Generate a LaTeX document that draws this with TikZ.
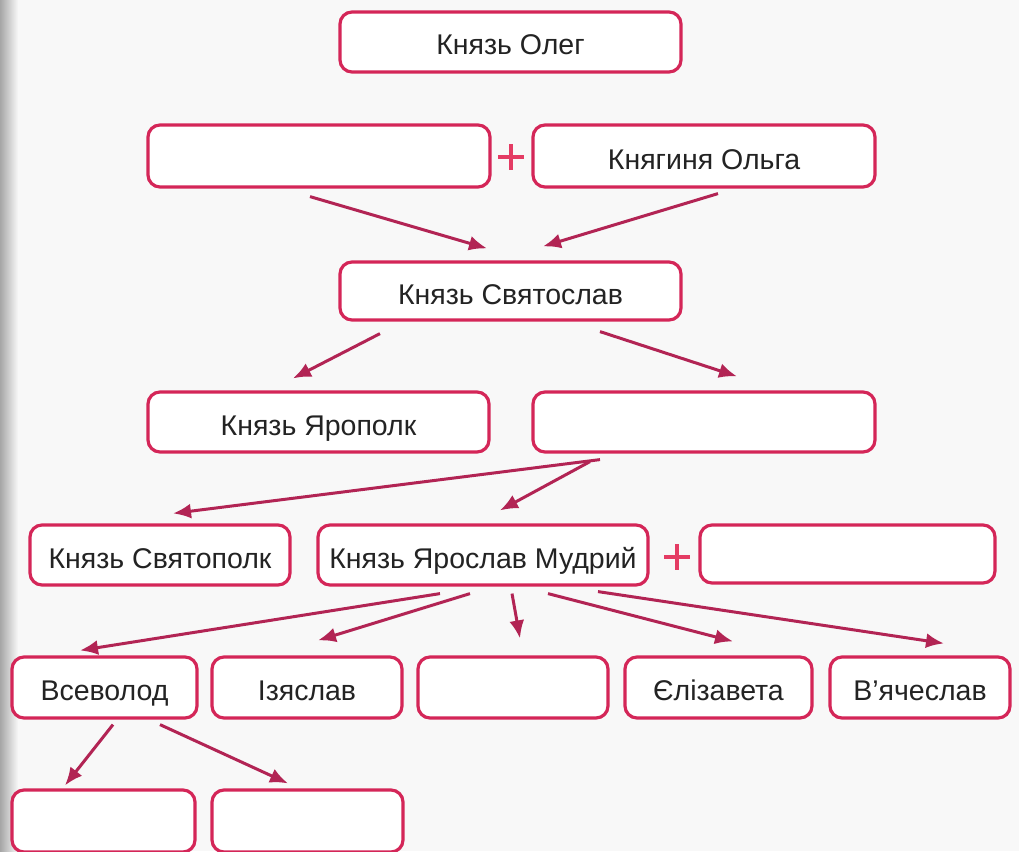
\documentclass[tikz,border=0pt]{standalone}
\usepackage{fontspec}
\setmainfont{Liberation Sans}
\usetikzlibrary{calc,arrows.meta}
\definecolor{boxred}{RGB}{212,38,88}
\definecolor{arrred}{RGB}{178,36,84}
\definecolor{plusred}{RGB}{228,60,100}
\definecolor{txt}{RGB}{35,35,35}
\definecolor{paper}{RGB}{248,248,248}
\tikzset{
  person/.style={draw=boxred, line width=3.2pt, rounded corners=12pt, fill=white,
    inner sep=0pt, text height=26pt, text depth=0pt, text=txt,
    font=\fontsize{28.5}{34}\selectfont},
  arr/.style={draw=arrred, line width=3pt, -{Latex[length=18pt,width=15pt]}},
  plussign/.style={minimum size=26pt, inner sep=0pt,
    path picture={\draw[plusred, line width=4.5pt]
      (path picture bounding box.west) -- (path picture bounding box.east)
      (path picture bounding box.north) -- (path picture bounding box.south);}}
}
\begin{document}
\begin{tikzpicture}[x=1pt,y=-1pt]
\useasboundingbox (0,0) rectangle (1019,851);
\fill[paper] (0,0) rectangle (1019,851);
\shade[left color=black!35, right color=paper] (0,0) rectangle (18,851);
% row 1
\node[person, minimum width=341pt, minimum height=60pt] (oleg) at (510.5,42) {Князь Олег};
% row 2
\node[person, minimum width=342pt, minimum height=62pt] (fath) at (319,156) {};
\node[person, minimum width=342pt, minimum height=62pt] (olga) at (704,156) {Княгиня Ольга};
\node[plussign] (p1) at (511,157) {};
% row 3
\node[person, minimum width=341pt, minimum height=58pt] (svt) at (510.5,291) {Князь Святослав};
% row 4
\node[person, minimum width=341pt, minimum height=60pt] (yrp) at (318.5,422) {Князь Ярополк};
\node[person, minimum width=342pt, minimum height=60pt] (vol) at (704,422) {};
% row 5
\node[person, minimum width=260pt, minimum height=60pt] (stp) at (160,555) {Князь Святополк};
\node[person, minimum width=330pt, minimum height=60pt] (yar) at (483,555) {Князь Ярослав Мудрий};
\node[plussign] (p2) at (677,557) {};
\node[person, minimum width=295pt, minimum height=58pt] (wife) at (847.5,554) {};
% row 6
\node[person, minimum width=185pt, minimum height=61pt] (vsv) at (104.5,687.5) {Всеволод};
\node[person, minimum width=190pt, minimum height=61pt] (izs) at (307,687.5) {Ізяслав};
\node[person, minimum width=190pt, minimum height=61pt] (unk) at (513,687.5) {};
\node[person, minimum width=187pt, minimum height=61pt] (eli) at (718.5,687.5) {Єлізавета};
\node[person, minimum width=180pt, minimum height=61pt] (vya) at (920,687.5) {В’ячеслав};
% row 7
\node[person, minimum width=183pt, minimum height=62pt] (gc1) at (103.5,821) {};
\node[person, minimum width=191pt, minimum height=62pt] (gc2) at (307.5,821) {};
% arrows
\draw[arr] ($(fath.south)+(-9,8)$) -- ($(svt.north)+(-23.5,-12)$);
\draw[arr] ($(olga.south)+(14,5)$) -- ($(svt.north)+(32.5,-14)$);
\draw[arr] ($(svt.south)+(-130.5,12)$) -- ($(yrp.north)+(-25.5,-12)$);
\draw[arr] ($(svt.south)+(89.5,10)$) -- ($(vol.north)+(33,-14)$);
\draw[arr] ($(vol.south)+(-104,6)$) -- ($(stp.north)+(13,-10)$);
\draw[arr] ($(vol.south)+(-114,8)$) -- ($(yar.north)+(17,-13)$);
\draw[arr] ($(yar.south)+(-43,7)$) -- ($(vsv.north)+(-24.5,-5)$);
\draw[arr] ($(yar.south)+(-13,7)$) -- ($(izs.north)+(11,-15)$);
\draw[arr] ($(yar.south)+(29,7)$) -- ($(unk.north)+(7,-17)$);
\draw[arr] ($(yar.south)+(65,7)$) -- ($(eli.north)+(14.5,-14)$);
\draw[arr] ($(yar.south)+(115,5)$) -- ($(vya.north)+(24,-12)$);
\draw[arr] ($(vsv.south)+(8.5,5)$) -- ($(gc1.north)+(-38.5,-3)$);
\draw[arr] ($(vsv.south)+(55.5,5)$) -- ($(gc2.north)+(-19.5,-5)$);
\end{tikzpicture}
\end{document}
